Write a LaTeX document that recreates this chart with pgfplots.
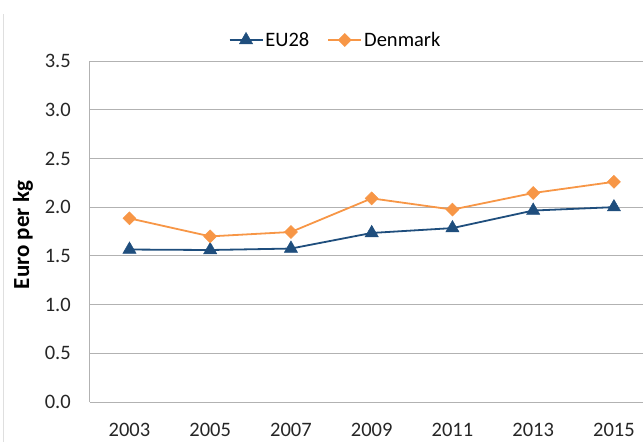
\documentclass[border=0pt]{standalone}
\usepackage{fontspec}
\setmainfont{Carlito}
\usepackage{pgfplots}
\pgfplotsset{compat=1.18}
\definecolor{eublue}{RGB}{31,78,125}
\definecolor{dkorange}{RGB}{247,150,70}
\definecolor{gridgray}{RGB}{178,178,178}
\begin{document}
\begin{tikzpicture}
\path[use as bounding box] (-90pt,-40pt) rectangle (553pt,402pt);
\begin{axis}[
  at={(0pt,0pt)}, anchor=south west,
  scale only axis,
  width=553pt, height=341pt,
  xmin=-0.489, xmax=6.36,
  ymin=0, ymax=3.5,
  xtick={0,1,2,3,4,5,6},
  xticklabels={2003,2005,2007,2009,2011,2013,2015},
  ytick={0,0.5,1,1.5,2,2.5,3,3.5},
  yticklabel style={/pgf/number format/fixed, /pgf/number format/fixed zerofill, /pgf/number format/precision=1, anchor=east, inner sep=0pt, xshift=-19pt},
  xticklabel style={anchor=base, inner sep=0pt, yshift=-34pt},
  /pgf/number format/assume math mode=true,
  tick label style={font=\fontsize{20.5}{24}\selectfont, text=black!85},
  major tick length=0pt,
  axis lines*=left,
  axis line style={gridgray, line width=1pt, -},
  ymajorgrids,
  grid style={gridgray, line width=1pt},
  every axis y label/.style={at={(axis description cs:-0.1212,0.49)}, rotate=90, anchor=center},
  ylabel={\fontsize{23}{26}\selectfont\bfseries Euro per kg},
  legend style={draw=none, fill=none, at={(axis description cs:0.444,1.0616)}, anchor=center, legend columns=2, font=\fontsize{20.5}{24}\selectfont, inner sep=0pt, /tikz/every even column/.append style={column sep=16pt}},
  legend image code/.code={\draw[mark repeat=2,mark phase=2] plot coordinates {(0pt,0pt)(16.5pt,0pt)(33pt,0pt)};},
  legend cell align=left,
  clip=false,
]
\addplot[eublue, line width=1.8pt, mark=triangle*, mark size=7.6pt, mark options={solid, fill=eublue, draw=eublue, line width=0.5pt}]
  coordinates {(0,1.565) (1,1.56) (2,1.575) (3,1.735) (4,1.785) (5,1.965) (6,2.0)};
\addlegendentry{EU28}
\addplot[dkorange, line width=1.8pt, mark=square*, mark size=4.6pt, mark options={solid, rotate=45, fill=dkorange, draw=dkorange, line width=0.5pt}]
  coordinates {(0,1.885) (1,1.70) (2,1.745) (3,2.09) (4,1.975) (5,2.145) (6,2.26)};
\addlegendentry{Denmark}
\end{axis}
\draw[gray!25, line width=0.8pt] (-87pt,-40pt) -- (-87pt,388pt);
\end{tikzpicture}
\end{document}
